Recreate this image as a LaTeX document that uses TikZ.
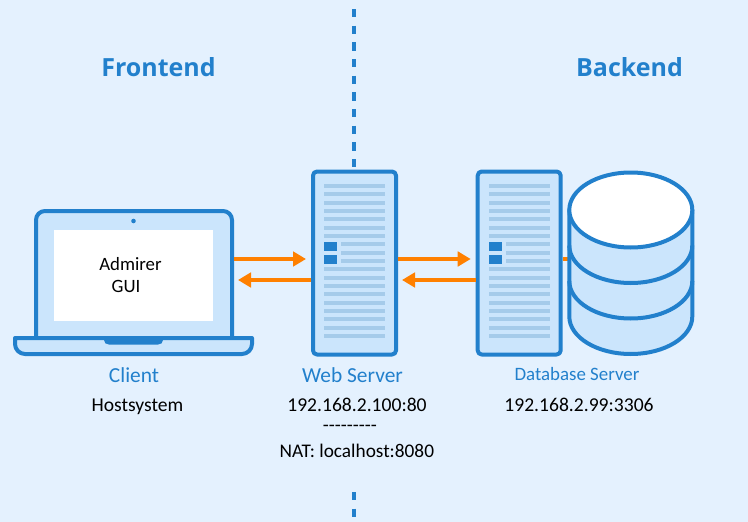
\documentclass[tikz,border=0pt]{standalone}
\usepackage{fontspec}
\setmainfont{Carlito}
\newfontfamily\headfont{Open Sans}
\usetikzlibrary{arrows.meta}
\definecolor{pagebg}{HTML}{E4F1FE}
\definecolor{linkblue}{HTML}{2280CC}
\definecolor{panelblue}{HTML}{CBE5FC}
\definecolor{rackline}{HTML}{A5CBEA}
\definecolor{floworange}{HTML}{FF8000}
\tikzset{
  outline/.style={draw=linkblue,line width=4pt,line join=round},
  servercase/.style={outline,fill=panelblue,rounded corners=4pt,minimum width=83pt,minimum height=183pt,inner sep=0pt},
  flow/.style={-{Triangle[length=13pt,width=14.5pt]},draw=floworange,line width=4pt},
  partition/.style={draw=linkblue,line width=4pt,dash pattern=on 8.4pt off 8.27pt},
  title/.style={text=linkblue,font=\headfont\bfseries\fontsize{25}{25}\selectfont,inner sep=0pt},
  role/.style={text=linkblue,font=\fontsize{21.4}{21.4}\selectfont,inner sep=0pt},
  plain/.style={text=black,font=\fontsize{19.6}{19.6}\selectfont,inner sep=0pt}
}
% one rack: lines and the two small squares
\newcommand{\rackfront}[1]{
  \foreach \i in {0,...,18} {
    \pgfmathsetmacro{\ypos}{186+8.33*\i}
    \ifnum\i=7 \else\ifnum\i=8 \else\ifnum\i=9 \else
      \fill[rackline] (#1-30.5,\ypos-2) rectangle (#1+30.5,\ypos+2);
    \fi\fi\fi
  }
  \foreach \i in {7,8,9} {
    \pgfmathsetmacro{\ypos}{186+8.33*\i}
    \fill[rackline] (#1-13.5,\ypos-2) rectangle (#1+30.5,\ypos+2);
  }
  \fill[linkblue] (#1-30.5,242) rectangle (#1-17.5,250.5);
  \fill[linkblue] (#1-30.5,254.5) rectangle (#1-17.5,263.5);
}
\begin{document}
\begin{tikzpicture}[x=1pt,y=-1pt]
\useasboundingbox (0,0) rectangle (748,522);
\fill[pagebg] (0,0) rectangle (748,522);

% dashed divider
\coordinate (divtop) at (354.3,9);
\coordinate (divmid) at (354.3,168);
\coordinate (divlow) at (354.3,492);
\coordinate (divend) at (354.3,522);
\draw[partition] (divtop) -- (divmid);
\draw[partition] (divlow) -- (divend);

\node[title] (frontend) at (158.5,67) {Frontend};
\node[title] (backend) at (629.5,67) {Backend};

% laptop
\node[outline,fill=panelblue,rounded corners=9pt,minimum width=196pt,minimum height=140pt,inner sep=0pt] (laptop) at (134,281) {};
\fill[white] (54,230) rectangle (213,321);
\fill[linkblue] (133.5,221) circle (2.3pt);
\draw[outline,fill=panelblue] (15,338) -- (252,338) -- (252,344) arc (0:-90:10pt) -- (25,354) arc (-90:-180:10pt) -- cycle;
\fill[linkblue] (104,338) -- (163,338) -- (163,340) .. controls (163,343) and (161,344.5) .. (158,344.5) -- (109,344.5) .. controls (106,344.5) and (104,343) .. (104,340) -- cycle;
\node[plain,font=\fontsize{18.8}{18.8}\selectfont] (admirer) at (130.5,264) {Admirer};
\node[plain,font=\fontsize{18.8}{18.8}\selectfont] (gui) at (126,286) {GUI};

% servers
\node[servercase] (web) at (354.5,263) {};
\rackfront{354.5}
\node[servercase] (dbsrv) at (519.2,263) {};
\rackfront{519.2}
\draw[flow] ([yshift=22pt]laptop.east) -- ([xshift=-5pt,yshift=4pt]web.west);
\draw[flow] ([yshift=-17pt]web.west) -- ([xshift=4pt,yshift=-17pt]laptop.east |- web.west);
\draw[flow] ([yshift=4pt]web.east) -- ([xshift=-5pt,yshift=4pt]dbsrv.west);
\draw[flow] ([yshift=-17pt]dbsrv.west) -- ([xshift=4pt,yshift=-17pt]web.east);

% stub between rack and cylinder
\coordinate (stubend) at (575,259);
\draw[draw=floworange,line width=4pt] ([yshift=4pt]dbsrv.east) -- (stubend);

% database
\draw[outline,fill=panelblue] (569.3,210) -- (569.3,316.5) arc (180:360:61.5pt and 37.5pt) -- (692.3,210) -- cycle;
\draw[outline] (569.3,245.5) arc (180:360:61.5pt and 37.5pt);
\draw[outline] (569.3,281) arc (180:360:61.5pt and 37.5pt);
\draw[outline,fill=white] (630.8,210) ellipse (61.5pt and 37.5pt);

% labels
\node[role] (client) at (134,375) {Client};
\node[plain] (hostsys) at (137.5,407) {Hostsystem};
\node[role] (webname) at (352.5,375) {Web Server};
\node[plain] (webip) at (357,405) {192.168.2.100:80};
\node[plain] (websep) at (350,428) {-{}-{}-{}-{}-{}-{}-{}-{}-};
\node[plain,font=\fontsize{19.3}{19.3}\selectfont] (webnat) at (356.8,451) {NAT: localhost:8080};
\node[role,font=\fontsize{18.9}{18.9}\selectfont] (dbname) at (577,374) {Database Server};
\node[plain] (dbip) at (579,405) {192.168.2.99:3306};
\end{tikzpicture}
\end{document}
